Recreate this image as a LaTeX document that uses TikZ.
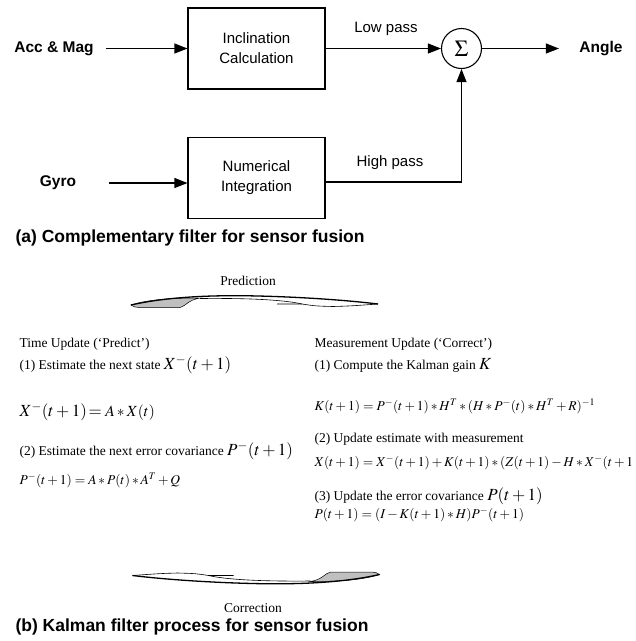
\documentclass[tikz,border=0pt]{standalone}
\usepackage{mathptmx}
\usepackage{fontspec}
\setmainfont{Liberation Serif}
\newfontfamily\arialfont{Liberation Sans}
\usetikzlibrary{arrows.meta,positioning}

\newcommand{\largemath}[1]{{\fontsize{17}{20}\selectfont$#1$}}

\tikzset{
  ribbon/.pic={
    % grey fin at the tail
    \filldraw[fill=black!25, line width=0.5pt] (-123.5,3.5) .. controls (-104.5,-2.5) and (-79.5,-3.5) .. (-54.5,-3.5)
      .. controls (-66.5,-1.5) and (-68.5,4.5) .. (-74.5,6) -- (-114.5,6) .. controls (-120.5,5.5) .. (-123.5,3.5) -- cycle;
    % upper edge
    \draw[line width=1.3pt] (-123.5,3.5) .. controls (-84.5,-5.5) and (-34.5,-6.5) .. (3.5,-5.5)
      .. controls (45.5,-4.5) and (90.5,-1.5) .. (123.5,2.5);
    % inner fold and head
    \draw[line width=0.6pt] (-54.5,-3) .. controls (-4.5,-3.5) and (30.5,-1.5) .. (47.5,2.5);
    \draw[line width=0.6pt] (22.5,2.5) -- (47.5,2.5) .. controls (60.5,4.5) .. (78.5,5) .. controls (95.5,4.5) .. (123.5,2.5);
  }
}

\begin{document}
\begin{tikzpicture}[x=1pt,y=-1pt,
    block/.style={rectangle, draw, line width=1.1pt, minimum width=137pt, minimum height=81pt,
      font=\arialfont\fontsize{15}{20}\selectfont, align=center},
    sumnode/.style={circle, draw, line width=1.1pt, minimum size=40pt, inner sep=0pt},
    sig/.style={line width=1.1pt, -{Triangle[length=13pt,width=10pt]}},
    lbl/.style={font=\arialfont\bfseries\fontsize{15.5}{18}\selectfont},
    passlbl/.style={font=\arialfont\fontsize{15}{18}\selectfont},
    caption/.style={anchor=west, font=\arialfont\bfseries\fontsize{17.5}{20}\selectfont},
    txt/.style={anchor=west, font=\fontsize{13.5}{16}\selectfont},
    arrowlbl/.style={font=\fontsize{13.5}{16}\selectfont}
  ]
    \useasboundingbox (0,0) rectangle (636,641);

    % (a) complementary filter
    \node[block] (incl) at (256.5,48.5) {Inclination\\Calculation};
    \node[block] (numint) at (256.5,178) {Numerical\\Integration};
    \node[sumnode] (sum) at (461.5,48.5) {\fontsize{23}{23}\selectfont$\Sigma$};

    \node[lbl] (acc) at (54,48.5) {Acc \& Mag};
    \node[lbl] (gyro) at (58,183) {Gyro};
    \node[lbl] (angle) at (601,48.5) {Angle};
    \node[passlbl] (lowlbl) at (386,29) {Low pass};
    \node[passlbl] (highlbl) at (390,163) {High pass};

    \draw[sig, shorten <=9pt] (acc) -- (incl);
    \draw[sig, shorten <=29pt] (gyro.east) -- (gyro.east -| numint.west);
    \draw[sig] (incl) -- (sum);
    \draw[sig] ([yshift=-4pt]numint.east) -| (sum.south);
    \draw[sig, shorten >=17pt] (sum) -- (angle);

    \node[caption] (capa) at (12,238) {(a) Complementary filter for sensor fusion};

    % (b) Kalman filter
    \node[arrowlbl] (predlbl) at (248,281) {Prediction};
    \pic at (254.5,301.5) {ribbon};
    \pic[rotate=180] at (256,578) {ribbon};
    \node[arrowlbl] (corrlbl) at (253,608) {Correction};

    \node[txt] (tu) at (16,344) {Time Update (‘Predict’)};
    \node[txt] (tu1) at (16,365) {(1) Estimate the next state \largemath{X^{-}\!\left(t+1\right)}};
    \node[txt] (tueq1) at (16,412) {\largemath{X^{-}\!\left(t+1\right)\!=} {\fontsize{15.5}{18}\selectfont$A*X(t)$}};
    \node[txt] (tu2) at (16,451) {(2) Estimate the next error covariance \largemath{P^{-}(t+1)}};
    \node[txt] (tueq2) at (16,480) {$P^{-}(t+1)=A*P(t)*A^{T}+Q$};

    \node[txt] (mu) at (311,344) {Measurement Update (‘Correct’)};
    \node[txt] (mu1) at (311,365) {(1) Compute the Kalman gain \largemath{K}};
    \node[txt] (mueq1) at (311,406) {$K(t+1)=P^{-}(t+1)*H^{T}*(H*P^{-}(t)*H^{T}+R)^{-1}$};
    \node[txt] (mu2) at (311,439) {(2) Update estimate with measurement};
    \node[txt] (mueq2) at (311,463) {$X(t+1)=X^{-}(t+1)+K(t+1)*(Z(t+1)-H*X^{-}(t+1$};
    \node[txt] (mu3) at (311,496) {(3) Update the error covariance \largemath{P(t+1)}};
    \node[txt] (mueq3) at (311,515) {$P(t+1)=(I-K(t+1)*H)P^{-}(t+1)$};

    \node[caption] (capb) at (12,627) {(b) Kalman filter process for sensor fusion};
\end{tikzpicture}
\end{document}
